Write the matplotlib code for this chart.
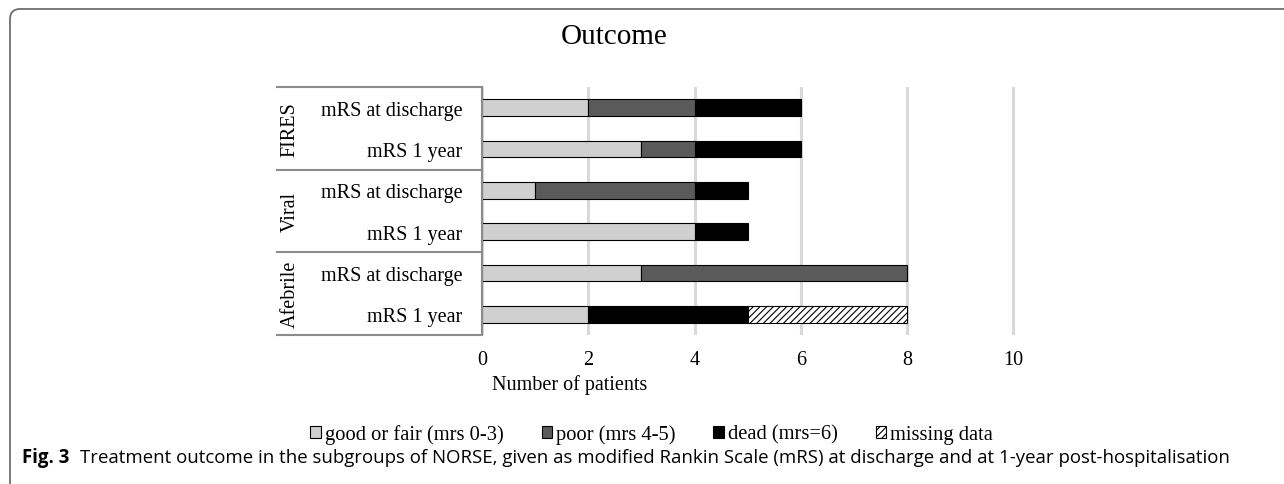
import numpy as np
import matplotlib
matplotlib.use("Agg")
import matplotlib.pyplot as plt
from matplotlib.patches import FancyBboxPatch, Patch
from matplotlib.transforms import IdentityTransform, blended_transform_factory

# data (rows top to bottom)
groups = ["FIRES", "Viral", "Afebrile"]
rows = ["mRS at discharge", "mRS 1 year"] * 3
good = [2, 3, 1, 4, 3, 2]
poor = [2, 1, 3, 0, 5, 0]
dead = [2, 2, 1, 1, 0, 3]
missing = [0, 0, 0, 0, 0, 3]
series_names = ["good or fair (mrs 0-3)", "poor (mrs 4-5)", "dead (mrs=6)", "missing data"]
xticks = [0, 2, 4, 6, 8, 10]

colors = {
    "good": "#d0d0d0",
    "poor": "#5a5a5a",
    "dead": "#000000",
    "missing": "#ffffff",
    "grid": "#d9d9d9",
    "axis": "#8c8c8c",
    "frame": "#6e6e6e",
}
serif = "Liberation Serif"
plt.rcParams["font.family"] = serif
plt.rcParams["hatch.linewidth"] = 0.8

W, H = 1284, 485
fig = plt.figure(figsize=(W / 100, H / 100), dpi=100, facecolor="white")

def px(x, y):
    return x / W, 1 - y / H

ax_l, ax_r, ax_t, ax_b = 482, 1016, 88, 336
ax = fig.add_axes([ax_l / W, 1 - ax_b / H, (ax_r - ax_l) / W, (ax_b - ax_t) / H])

y = np.arange(len(rows))
bh = 0.41
left = np.zeros(len(rows))
stack = [(good, colors["good"], None), (poor, colors["poor"], None),
         (dead, colors["dead"], None), (missing, colors["missing"], "/////")]
for (vals, c, hatch), name in zip(stack, series_names):
    vals = np.array(vals, dtype=float)
    mask = vals > 0
    ax.barh(y[mask], vals[mask], left=left[mask], height=bh, color=c,
            edgecolor="black", linewidth=0.8, hatch=hatch, zorder=3)
    left += vals

ax.set_xlim(0, 10.05)
ax.set_ylim(len(rows) - 0.5, -0.5)
ax.set_xticks(xticks)
ax.set_xticklabels([str(t) for t in xticks], fontsize=14.5)
ax.set_yticks(y)
ax.set_yticklabels(rows, fontsize=14.5)
ax.tick_params(axis="y", length=0, pad=14)
ax.tick_params(axis="x", length=0, pad=11)
ax.grid(axis="x", color=colors["grid"], linewidth=2.2, zorder=0)
ax.set_axisbelow(True)
for s in ["top", "right", "bottom"]:
    ax.spines[s].set_visible(False)
ax.spines["left"].set_color(colors["axis"])
ax.spines["left"].set_linewidth(1.5)
ax.spines["left"].set_zorder(4)

# multi-level category box
trans = blended_transform_factory(ax.transAxes, ax.transData)
box_left = (277 - ax_l) / (ax_r - ax_l)
for yb in [-0.5, 1.5, 3.5, 5.5]:
    ax.plot([box_left, 0], [yb, yb], color=colors["axis"], lw=1.5,
            transform=trans, clip_on=False)
grp_x = (290 - ax_l) / (ax_r - ax_l)
for i, g in enumerate(groups):
    ax.text(grp_x, 2 * i + 0.5, g, rotation=90, ha="center", va="center",
            fontsize=14.5, transform=trans)

fig.text(*px(492, 385), "Number of patients", ha="left", va="center", fontsize=14.5)
fig.text(*px(614, 37), "Outcome", ha="center", va="center", fontsize=21)

handles = [Patch(facecolor=c, edgecolor="black", linewidth=0.8, hatch=h)
           for _, c, h in stack]
fig.legend(handles, series_names, loc="center right", bbox_to_anchor=px(993, 435),
           ncol=4, frameon=False, fontsize=14.8, handlelength=0.5,
           handleheight=0.5, handletextpad=0.2, columnspacing=1.85,
           borderpad=0, borderaxespad=0)

# caption
cap_font = "Open Sans"
t1 = fig.text(*px(22, 458), "Fig. 3", ha="left", va="center", fontsize=13.4,
              fontweight="bold", family=cap_font)
fig.canvas.draw()
bb = t1.get_window_extent()
fig.text((bb.x1 + 11) / W, 1 - 458 / H,
         "Treatment outcome in the subgroups of NORSE, given as modified Rankin Scale (mRS) "
         "at discharge and at 1-year post-hospitalisation",
         ha="left", va="center", fontsize=13.4, family=cap_font)

# open frame with rounded top-left corner
frame = FancyBboxPatch((10, -60), 2000, (H - 10) + 60,
                       boxstyle="round,pad=0,rounding_size=10",
                       transform=IdentityTransform(), facecolor="none",
                       edgecolor=colors["frame"], linewidth=1.3)
fig.add_artist(frame)

fig.savefig("out.png", dpi=100, facecolor="white")
